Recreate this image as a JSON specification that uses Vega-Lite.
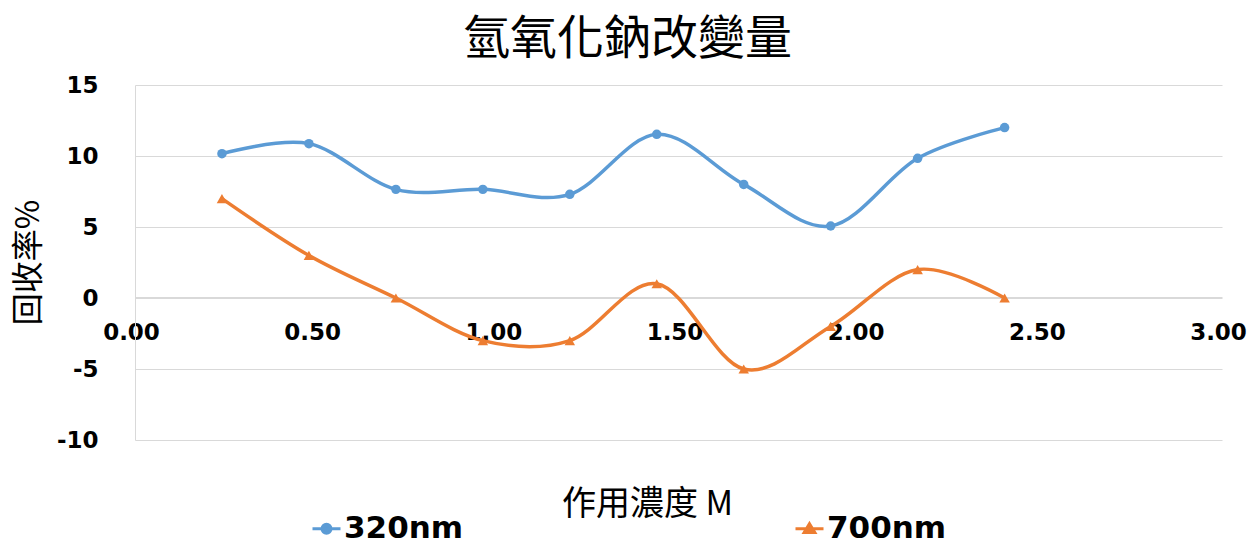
{
  "$schema": "https://vega.github.io/schema/vega-lite/v6.json",
  "width": 1087,
  "height": 355,
  "autosize": "none",
  "padding": {"left": 135, "top": 85, "right": 35, "bottom": 104},
  "background": "#ffffff",
  "title": {
    "text": "氫氧化鈉改變量",
    "font": "Noto Sans CJK TC",
    "fontSize": 47,
    "fontWeight": "normal",
    "color": "#000000",
    "anchor": "middle",
    "frame": "group",
    "baseline": "alphabetic",
    "dx": -51,
    "dy": 33,
    "offset": 6
  },
  "data": {
    "values": [
      {"conc": 0.24, "series": "320nm", "rate": 10.16},
      {"conc": 0.48, "series": "320nm", "rate": 10.87},
      {"conc": 0.72, "series": "320nm", "rate": 7.65},
      {"conc": 0.96, "series": "320nm", "rate": 7.65},
      {"conc": 1.2, "series": "320nm", "rate": 7.3},
      {"conc": 1.44, "series": "320nm", "rate": 11.53},
      {"conc": 1.68, "series": "320nm", "rate": 8.0},
      {"conc": 1.92, "series": "320nm", "rate": 5.07},
      {"conc": 2.16, "series": "320nm", "rate": 9.84},
      {"conc": 2.4, "series": "320nm", "rate": 12.0},
      {"conc": 0.24, "series": "700nm", "rate": 7},
      {"conc": 0.48, "series": "700nm", "rate": 3},
      {"conc": 0.72, "series": "700nm", "rate": 0},
      {"conc": 0.96, "series": "700nm", "rate": -3},
      {"conc": 1.2, "series": "700nm", "rate": -3},
      {"conc": 1.44, "series": "700nm", "rate": 1},
      {"conc": 1.68, "series": "700nm", "rate": -5},
      {"conc": 1.92, "series": "700nm", "rate": -2},
      {"conc": 2.16, "series": "700nm", "rate": 2},
      {"conc": 2.4, "series": "700nm", "rate": 0}
    ]
  },
  "encoding": {
    "x": {
      "field": "conc",
      "type": "quantitative",
      "scale": {"domain": [0, 3], "nice": false, "zero": false},
      "axis": {
        "orient": "bottom",
        "offset": -143,
        "values": [0, 0.5, 1, 1.5, 2, 2.5, 3],
        "format": ".2f",
        "grid": false,
        "ticks": false,
        "domain": true,
        "domainColor": "#D9D9D9",
        "domainWidth": 1,
        "labelFont": "DejaVu Sans",
        "labelFontWeight": "bold",
        "labelFontSize": 23,
        "labelColor": "#000000",
        "labelPadding": 24,
        "labelOffset": -4,
        "labelFlush": false,
        "labelOverlap": false,
        "title": "作用濃度 M",
        "titleFont": "Noto Sans CJK TC",
        "titleFontSize": 34,
        "titleFontWeight": "normal",
        "titleColor": "#000000",
        "titleX": 512,
        "titleY": 207,
        "titleAlign": "center",
        "titleBaseline": "middle",
        "zindex": 0
      }
    },
    "y": {
      "field": "rate",
      "type": "quantitative",
      "scale": {"domain": [-10, 15], "nice": false, "zero": false},
      "axis": {
        "values": [-10, -5, 0, 5, 10, 15],
        "labelExpr": "datum.value < 0 ? '-' + abs(datum.value) : '' + datum.value",
        "grid": true,
        "gridColor": "#D9D9D9",
        "gridWidth": 1,
        "ticks": false,
        "domain": true,
        "domainColor": "#D9D9D9",
        "labelFont": "DejaVu Sans",
        "labelFontWeight": "bold",
        "labelFontSize": 23,
        "labelColor": "#000000",
        "labelPadding": 37,
        "labelFlush": false,
        "labelOverlap": false,
        "title": "回收率%",
        "titleFont": "Noto Sans CJK TC",
        "titleFontSize": 32,
        "titleFontWeight": "normal",
        "titleColor": "#000000",
        "titleAngle": -90,
        "titleX": -107,
        "titleY": 177,
        "titleAlign": "center",
        "titleBaseline": "middle",
        "zindex": 0
      }
    },
    "color": {
      "field": "series",
      "type": "nominal",
      "scale": {"domain": ["320nm", "700nm"], "range": ["#5B9BD5", "#ED7D31"]},
      "legend": {
        "title": null,
        "orient": "none",
        "direction": "horizontal",
        "legendX": 176,
        "legendY": 428,
        "columnPadding": 325,
        "labelFont": "DejaVu Sans",
        "labelFontWeight": "bold",
        "labelFontSize": 31,
        "labelColor": "#000000",
        "labelOffset": 2,
        "symbolSize": 784,
        "symbolStrokeWidth": 3,
        "symbolType": "M-1,0H1M0.32,0A0.32,0.32,0,1,1,-0.32,0A0.32,0.32,0,1,1,0.32,0Z",
        "encode": {
          "symbols": {
            "update": {
              "shape": {"signal": "datum.value === '320nm' ? 'M-1,0H1M0.32,0A0.32,0.32,0,1,1,-0.32,0A0.32,0.32,0,1,1,0.32,0Z' : 'M-1,0H1M0,-0.36L0.38,0.26L-0.38,0.26Z'"},
              "fill": {"signal": "datum.value === '320nm' ? '#5B9BD5' : '#ED7D31'"},
              "stroke": {"signal": "datum.value === '320nm' ? '#5B9BD5' : '#ED7D31'"},
              "strokeWidth": {"value": 3},
              "opacity": {"value": 1}
            }
          }
        }
      }
    }
  },
  "layer": [
    {
      "mark": {"type": "line", "interpolate": "cardinal", "tension": 0, "strokeWidth": 3.5}
    },
    {
      "transform": [{"filter": "datum.series === '320nm'"}],
      "mark": {"type": "point", "shape": "circle", "filled": true, "opacity": 1, "size": 90}
    },
    {
      "transform": [{"filter": "datum.series === '700nm'"}],
      "mark": {"type": "point", "shape": "triangle-up", "filled": true, "opacity": 1, "size": 110}
    }
  ],
  "config": {
    "view": {"stroke": null}
  }
}
